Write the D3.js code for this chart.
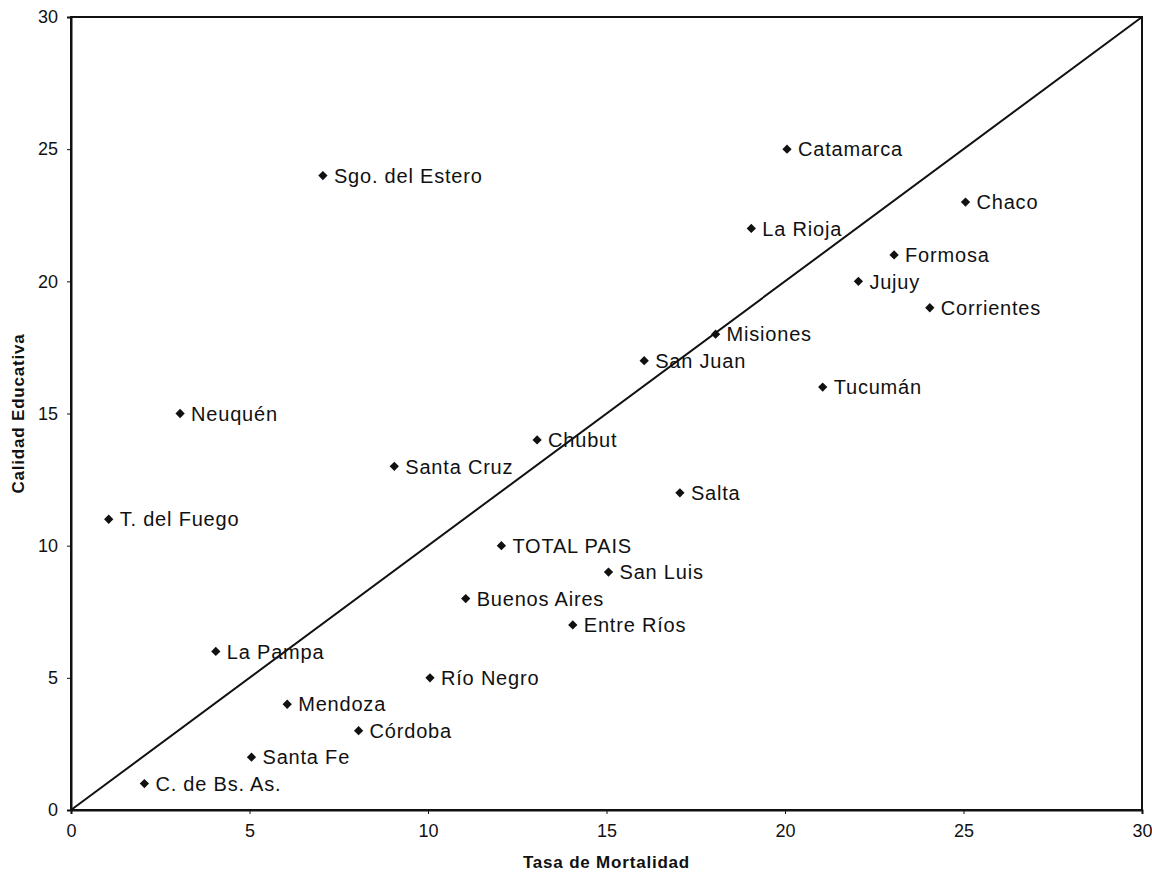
<!DOCTYPE html>
<html><head><meta charset="utf-8">
<script src="https://cdn.jsdelivr.net/npm/d3@7"></script>
<style>body{margin:0;background:#fff;} svg{display:block;}</style>
</head><body>
<svg id="c" width="1152" height="875"></svg>
<script>
const provinces = ["C. de Bs. As.","Santa Fe","Córdoba","Mendoza","Río Negro","La Pampa","Entre Ríos","Buenos Aires","San Luis","TOTAL PAIS","T. del Fuego","Salta","Santa Cruz","Chubut","Neuquén","Tucumán","San Juan","Misiones","Corrientes","Jujuy","Formosa","La Rioja","Chaco","Sgo. del Estero","Catamarca"];
const mortalidad = [2,5,8,6,10,4,14,11,15,12,1,17,9,13,3,21,16,18,24,22,23,19,25,7,20];
const calidad    = [1,2,3,4,5,6,7,8,9,10,11,12,13,14,15,16,17,18,19,20,21,22,23,24,25];
const xTicks = [0,5,10,15,20,25,30];
const yTicks = [0,5,10,15,20,25,30];
const xTitle = "Tasa de Mortalidad";
const yTitle = "Calidad Educativa";

const svg = d3.select("#c");
const L = 71, R = 1142, T = 17, B = 810;
const x = d3.scaleLinear().domain([0,30]).range([L,R]);
const y = d3.scaleLinear().domain([0,30]).range([B,T]);
const font = "Liberation Sans, Arial, Helvetica, sans-serif";

// frame
svg.append("rect").attr("x",L).attr("y",T).attr("width",R-L).attr("height",B-T)
  .attr("fill","none").attr("stroke","#111").attr("stroke-width",2);

const xAxis = svg.append("g").attr("transform",`translate(0,${B})`)
  .call(d3.axisBottom(x).tickValues(xTicks).tickSize(4).tickPadding(10).tickFormat(d3.format("d")));
const yAxis = svg.append("g").attr("transform",`translate(${L},0)`)
  .call(d3.axisLeft(y).tickValues(yTicks).tickSize(4).tickPadding(9).tickFormat(d3.format("d")));
[xAxis,yAxis].forEach(a=>{
  a.select(".domain").attr("stroke","#111").attr("stroke-width",2);
  a.selectAll(".tick line").attr("stroke","#111").attr("stroke-width",1);
  a.selectAll(".tick text").attr("font-family",font).attr("font-size",18).attr("fill","#111");
});

// diagonal
svg.append("line").attr("x1",x(0)).attr("y1",y(0)).attr("x2",x(30)).attr("y2",y(30))
  .attr("stroke","#111").attr("stroke-width",2);

// points
const data = provinces.map((p,i)=>({name:p, mx:mortalidad[i], cy:calidad[i]}));
const g = svg.append("g");
g.selectAll("path.pt").data(data).join("path").attr("class","pt")
  .attr("d", d3.symbol().type(d3.symbolDiamond2 || d3.symbolDiamond).size(55))
  .attr("transform", d=>`translate(${x(d.mx)+2},${y(d.cy)})`)
  .attr("fill","#111");
g.selectAll("text.lbl").data(data).join("text").attr("class","lbl")
  .attr("x", d=>x(d.mx)+13).attr("y", d=>y(d.cy))
  .attr("dy","0.36em")
  .attr("font-family",font).attr("font-size",20).attr("letter-spacing","0.8px").attr("fill","#111")
  .text(d=>d.name);

// titles
svg.append("text").attr("x",(L+R)/2).attr("y",868).attr("text-anchor","middle")
  .attr("font-family",font).attr("font-weight","bold").attr("font-size",17).attr("letter-spacing","0.8px").attr("fill","#111").text(xTitle);
svg.append("text").attr("transform",`translate(24,${(T+B)/2}) rotate(-90)`).attr("text-anchor","middle")
  .attr("font-family",font).attr("font-weight","bold").attr("font-size",17).attr("letter-spacing","0.8px").attr("fill","#111").text(yTitle);
</script>
</body></html>
